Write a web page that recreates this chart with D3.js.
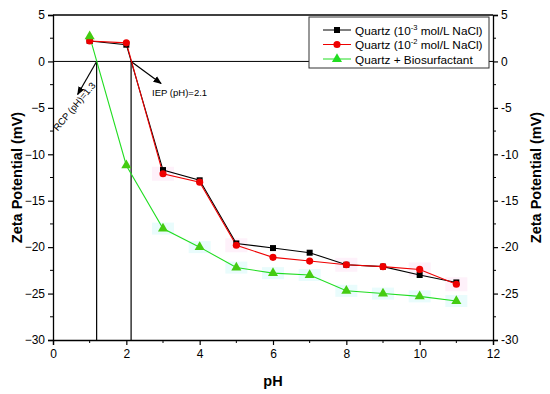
<!DOCTYPE html>
<html>
<head>
<meta charset="utf-8">
<script src="https://cdn.jsdelivr.net/npm/d3@7"></script>
<style>
  body { margin: 0; background: #fff; }
  text { font-family: "Liberation Sans", Arial, sans-serif; }
</style>
</head>
<body>
<svg id="chart" width="550" height="394"></svg>
<script>
// values
var pH = [1, 2, 3, 4, 5, 6, 7, 8, 9, 10, 11];
var quartz3 = [2.2, 1.8, -11.7, -12.8, -19.6, -20.1, -20.6, -21.9, -22.1, -23.0, -23.8];
var quartz2 = [2.2, 2.0, -12.1, -13.0, -19.8, -21.1, -21.5, -21.9, -22.1, -22.4, -24.0];
var bio = [2.7, -11.2, -18.0, -20.0, -22.2, -22.8, -23.0, -24.7, -25.0, -25.3, -25.8];
var xTicks = [0, 2, 4, 6, 8, 10, 12];
var yTicks = [5, 0, -5, -10, -15, -20, -25, -30];
var rcp = 1.19, iep = 2.13;

var svg = d3.select("svg#chart"),
    margin = {top: 15, left: 53, bottom: 54, right: 57},
    width = 550, height = 394;

var x = d3.scaleLinear().domain([0, 12]).range([margin.left, width - margin.right]);
var y = d3.scaleLinear().domain([-30, 5]).range([height - margin.bottom, margin.top]);

// faint error highlight boxes
var pinkAt = [3, 5, 8, 10, 11];
svg.append("g").selectAll("rect").data(pinkAt).enter().append("rect")
  .attr("x", d => x(d) - 11).attr("y", d => y(quartz2[d - 1]) - 7)
  .attr("width", 22).attr("height", 14).attr("fill", "#fef1fa");
svg.append("g").selectAll("rect").data(pH.slice(2)).enter().append("rect")
  .attr("x", d => x(d) - 11).attr("y", d => y(bio[d - 1]) - 6)
  .attr("width", 22).attr("height", 12).attr("fill", "#e9fcfc");

// axes
var left = svg.append("g").attr("transform", translate(margin.left, 0))
  .call(d3.axisLeft(y).tickValues(yTicks).tickSize(5).tickPadding(3).tickFormat(d3.format("d")));
var right = svg.append("g").attr("transform", translate(width - margin.right, 0))
  .call(d3.axisRight(y).tickValues(yTicks).tickSize(5).tickPadding(3).tickFormat(d => d < 0 ? "-" + (-d) : d));
var bottom = svg.append("g").attr("transform", translate(0, height - margin.bottom))
  .call(d3.axisBottom(x).tickValues(xTicks).tickSize(5).tickPadding(4));
[left, right, bottom].forEach(function(g) {
  g.select(".domain").attr("stroke-width", 1.3);
  g.selectAll(".tick line").attr("stroke-width", 1.2);
  g.selectAll("text").attr("font-size", 12).attr("fill", "#000");
});
// minor ticks
var yMinor = d3.range(-27.5, 5, 5);
left.selectAll(".minor").data(yMinor).enter().append("line")
  .attr("x1", 0).attr("x2", -3).attr("y1", d => y(d)).attr("y2", d => y(d)).attr("stroke", "#000");
right.selectAll(".minor").data(yMinor).enter().append("line")
  .attr("x1", 0).attr("x2", 3).attr("y1", d => y(d)).attr("y2", d => y(d)).attr("stroke", "#000");
bottom.selectAll(".minor").data(d3.range(1, 12, 2)).enter().append("line")
  .attr("y1", 0).attr("y2", 3).attr("x1", d => x(d)).attr("x2", d => x(d)).attr("stroke", "#000");

// top frame and zero line
svg.append("line").attr("x1", x(0)).attr("x2", x(12)).attr("y1", y(5)).attr("y2", y(5))
  .attr("stroke", "#000").attr("stroke-width", 1.3);
svg.append("line").attr("x1", x(0)).attr("x2", x(12)).attr("y1", y(0)).attr("y2", y(0))
  .attr("stroke", "#000").attr("stroke-width", 1);

// vertical markers
[rcp, iep].forEach(function(v) {
  svg.append("line").attr("x1", x(v)).attr("x2", x(v)).attr("y1", y(0)).attr("y2", y(-30))
    .attr("stroke", "#000").attr("stroke-width", 1.2);
});

// arrows
svg.append("defs").append("marker").attr("id", "arr")
  .attr("viewBox", "0 0 10 10").attr("refX", 9).attr("refY", 5)
  .attr("markerWidth", 7).attr("markerHeight", 7).attr("orient", "auto")
  .append("path").attr("d", "M0,1 L10,5 L0,9 Z").attr("fill", "#000");
svg.append("line").attr("x1", x(rcp)).attr("y1", y(0)).attr("x2", x(rcp) - 19).attr("y2", y(0) + 33)
  .attr("stroke", "#000").attr("stroke-width", 1.2).attr("marker-end", "url(#arr)");
svg.append("line").attr("x1", x(iep)).attr("y1", y(0)).attr("x2", x(iep) + 30).attr("y2", y(0) + 22)
  .attr("stroke", "#000").attr("stroke-width", 1.2).attr("marker-end", "url(#arr)");
svg.append("text").attr("x", x(iep) + 21).attr("y", y(0) + 35).attr("font-size", 9.5).text("IEP (pH)=2.1");
svg.append("text").attr("transform", translate(x(rcp) - 39, y(0) + 70) + " rotate(-50)")
  .attr("font-size", 9.5).text("RCP (pH)=1.3");

// series
var series = [
  {name: "q3", vals: quartz3, color: "#000", marker: d3.symbolSquare, size: 36},
  {name: "q2", vals: quartz2, color: "#ee0000", marker: d3.symbolCircle, size: 40},
  {name: "bio", vals: bio, color: "#22dd22", marker: d3.symbolTriangle, size: 44}
];
var line = d3.line().x((d, i) => x(pH[i])).y(d => y(d));
series.forEach(function(s) {
  svg.append("path").datum(s.vals).attr("d", line)
    .attr("fill", "none").attr("stroke", s.color).attr("stroke-width", 1.1);
});
series.forEach(function(s) {
  svg.append("g").selectAll("path").data(s.vals).enter().append("path")
    .attr("transform", (d, i) => translate(x(pH[i]), y(d)))
    .attr("d", d3.symbol().type(s.marker).size(s.size))
    .attr("fill", s.name == "bio" ? "#44cc11" : s.color);
});

// legend
var lg = svg.append("g").attr("transform", translate(309, 17));
lg.append("rect").attr("width", 180).attr("height", 51).attr("fill", "#fff")
  .attr("stroke", "#333").attr("stroke-width", 1);
var labels = [["Quartz (10", "-3", " mol/L NaCl)"], ["Quartz (10", "-2", " mol/L NaCl)"], ["Quartz + Biosurfactant", "", ""]];
series.forEach(function(s, i) {
  var ry = 13 + i * 14.5;
  lg.append("line").attr("x1", 14).attr("x2", 42).attr("y1", ry).attr("y2", ry).attr("stroke", s.color);
  lg.append("path").attr("transform", translate(28, ry))
    .attr("d", d3.symbol().type(s.marker).size(s.size)).attr("fill", s.color);
  var t = lg.append("text").attr("x", 46).attr("y", ry + 4.5).attr("font-size", 11.8);
  t.append("tspan").text(labels[i][0]);
  if (labels[i][1]) {
    t.append("tspan").attr("dy", -5).attr("font-size", 7.5).text(labels[i][1]);
    t.append("tspan").attr("dy", 5).text(labels[i][2]);
  }
});

// axis titles
svg.append("text").attr("transform", translate(22, (y(5) + y(-30)) / 2) + " rotate(-90)")
  .attr("text-anchor", "middle").attr("font-size", 14.5).attr("font-weight", "bold").text("Zeta Potential (mV)");
svg.append("text").attr("transform", translate(541, (y(5) + y(-30)) / 2) + " rotate(-90)")
  .attr("text-anchor", "middle").attr("font-size", 14.5).attr("font-weight", "bold").text("Zeta Potential (mV)");
svg.append("text").attr("x", (x(0) + x(12)) / 2).attr("y", 386)
  .attr("text-anchor", "middle").attr("font-size", 14.5).attr("font-weight", "bold").text("pH");

function translate(x, y) {
  return 'translate(' + String(x) + ',' + String(y) + ')';
}
</script>
</body>
</html>
